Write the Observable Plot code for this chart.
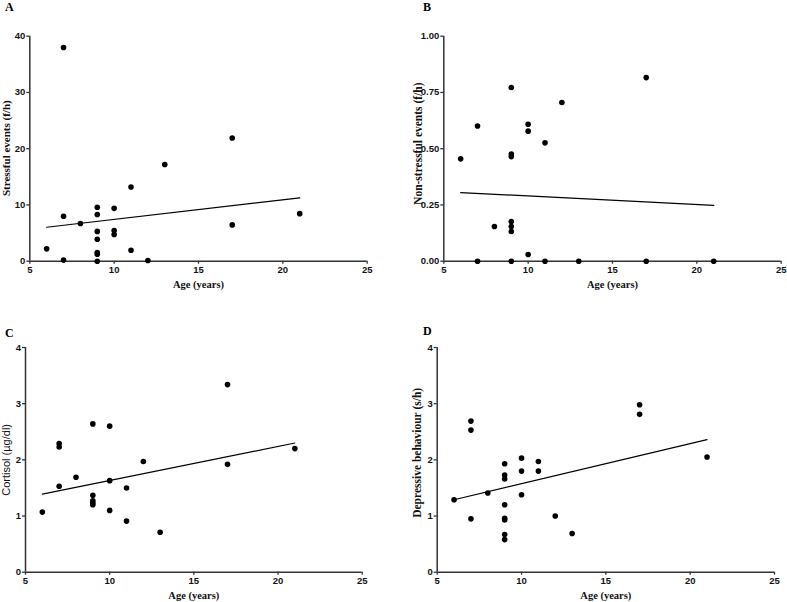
<!DOCTYPE html>
<html>
<head>
<meta charset="utf-8">
<script src="https://cdn.jsdelivr.net/npm/d3@7"></script>
<script src="https://cdn.jsdelivr.net/npm/@observablehq/plot@0.6"></script>
<style>
  html, body { margin: 0; padding: 0; background: #fff; }
  #root { position: relative; width: 787px; height: 602px; overflow: hidden; }
  .panel { position: absolute; }
  .letter { position: absolute; font-family: "Liberation Serif", "Times New Roman", serif; font-weight: bold; font-size: 12px; color: #000; line-height: 1; }
</style>
</head>
<body>
<div id="root"></div>
<script>
// ---- Data ----
const xTicks = [5, 10, 15, 20, 25];

// Panel A: stressful events (f/h)
const ageA    = [6, 7, 7, 7, 8, 9, 9, 9, 9, 9, 9, 9, 10, 10, 10, 11, 11, 12, 13, 17, 17, 21];
const stressA = [2.2, 38, 8, 0.2, 6.7, 9.6, 8.3, 5.3, 3.9, 1.55, 1.25, 0, 9.4, 5.45, 4.75, 13.2, 1.95, 0.12, 17.2, 21.9, 6.45, 8.45];
const yTicksA = [0, 10, 20, 30, 40];
const fitAgeA = [6, 21];
const fitA    = [6.04, 11.26];

// Panel B: non-stressful events (f/h)
const ageB       = [6, 7, 7, 8, 9, 9, 9, 9, 9, 9, 9, 10, 10, 10, 11, 11, 12, 13, 17, 17, 21];
const nonStressB = [0.455, 0.601, 0, 0.154, 0.772, 0.476, 0.465, 0.176, 0.154, 0.132, 0, 0.609, 0.578, 0.03, 0.526, 0, 0.705, 0, 0.816, 0, 0];
const yTicksB = [0, 0.25, 0.5, 0.75, 1];
const fitAgeB = [6, 21];
const fitB    = [0.305, 0.248];

// Panel C: cortisol (µg/dl)
const ageC      = [6, 7, 7, 7, 8, 9, 9, 9, 9, 9, 10, 10, 10, 11, 11, 12, 13, 17, 17, 21];
const cortisolC = [1.07, 1.53, 2.23, 2.29, 1.69, 2.64, 1.37, 1.27, 1.23, 1.2, 2.6, 1.63, 1.1, 1.5, 0.91, 1.97, 0.71, 3.34, 1.92, 2.2];
const yTicksC = [0, 1, 2, 3, 4];
const fitAgeC = [6, 21];
const fitC    = [1.39, 2.3];

// Panel D: depressive behaviour (s/h)
const ageD      = [6, 7, 7, 7, 8, 9, 9, 9, 9, 9, 9, 9, 9, 10, 10, 10, 11, 11, 12, 13, 17, 17, 21];
const depressD  = [1.29, 2.69, 2.53, 0.95, 1.41, 1.93, 1.73, 1.66, 1.2, 0.96, 0.93, 0.67, 0.58, 2.03, 1.8, 1.38, 1.97, 1.8, 1.0, 0.69, 2.98, 2.81, 2.05];
const yTicksD = [0, 1, 2, 3, 4];
const fitAgeD = [6, 21];
const fitD    = [1.29, 2.36];

// ---- Rendering ----
const SANS = "'Liberation Sans', Arial, sans-serif";
const SERIF = "'Liberation Serif', 'Times New Roman', serif";

function zip(xs, ys) { return xs.map((x, i) => ({x, y: ys[i]})); }

function panel(cfg) {
  const pts = zip(cfg.ages, cfg.values);
  const fit = zip(cfg.fitAges, cfg.fitValues);
  const chart = Plot.plot({
    width: cfg.width,
    height: cfg.height,
    marginLeft: cfg.ml, marginRight: cfg.mr, marginTop: cfg.mt, marginBottom: cfg.mb,
    style: {background: "transparent", overflow: "visible"},
    x: {domain: [5, 25], axis: null},
    y: {domain: cfg.yDomain, axis: null},
    marks: [
      Plot.axisX(xTicks, {tickSize: 3, tickPadding: 2, fontWeight: "bold", fontFamily: SANS, fontSize: 9.5, stroke: "#333", fill: "#111", strokeWidth: 1.3, label: null}),
      Plot.axisY(cfg.yTicks, {tickSize: 3, tickPadding: 1.5, fontWeight: "bold", fontFamily: SANS, fontSize: 9.5, stroke: "#333", fill: "#111", strokeWidth: 1.3, label: null, tickFormat: cfg.tickFormat}),
      Plot.ruleX([5], {stroke: "#333", strokeWidth: 1.5}),
      Plot.ruleY([cfg.yDomain[0]], {stroke: "#333", strokeWidth: 1.5}),
      Plot.line(fit, {x: "x", y: "y", stroke: "#000", strokeWidth: 1.2}),
      Plot.dot(pts, {x: "x", y: "y", r: 2.8, fill: "#000", stroke: "none"}),
      Plot.text(["Age (years)"], {frameAnchor: "bottom", dy: 23, lineAnchor: "middle", textAnchor: "middle", fontFamily: SERIF, fontWeight: "bold", fontSize: 10.5, fill: "#111"}),
      Plot.text([cfg.yLabel], {frameAnchor: "left", rotate: -90, dx: cfg.ydx, dy: cfg.ydy, lineAnchor: "middle", textAnchor: "middle",
        fontFamily: cfg.ySans ? SANS : SERIF, fontWeight: cfg.ySans ? "normal" : "bold", fontSize: cfg.yFont, fill: "#111"})
    ]
  });
  chart.classList.add("panel");
  chart.style.left = cfg.left + "px";
  chart.style.top = cfg.top + "px";
  document.getElementById("root").appendChild(chart);

  const L = document.createElement("div");
  L.className = "letter";
  L.textContent = cfg.letter;
  L.style.left = cfg.lx + "px";
  L.style.top = cfg.ly + "px";
  document.getElementById("root").appendChild(L);
}

panel({letter: "A", lx: 5, ly: 1, left: 0, top: 0, width: 393, height: 301,
  ml: 29.3, mr: 26.3, mt: 35.7, mb: 40.3,
  ages: ageA, values: stressA, fitAges: fitAgeA, fitValues: fitA,
  yDomain: [0, 40], yTicks: yTicksA, tickFormat: d => String(d),
  yLabel: "Stressful events (f/h)", ydx: -23.8, ydy: -0.5, yFont: 11});

panel({letter: "B", lx: 423, ly: 1, left: 393, top: 0, width: 394, height: 301,
  ml: 50.3, mr: 6.3, mt: 35.7, mb: 40.3,
  ages: ageB, values: nonStressB, fitAges: fitAgeB, fitValues: fitB,
  yDomain: [0, 1], yTicks: yTicksB, tickFormat: d => d.toFixed(2),
  yLabel: "Non-stressful events (f/h)", ydx: -25.5, ydy: -5, yFont: 11.5});

panel({letter: "C", lx: 5, ly: 327, left: 0, top: 301, width: 393, height: 301,
  ml: 25, mr: 31.3, mt: 46, mb: 30.3,
  ages: ageC, values: cortisolC, fitAges: fitAgeC, fitValues: fitC,
  yDomain: [0, 4], yTicks: yTicksC, tickFormat: d => String(d),
  yLabel: "Cortisol (µg/dl)", ydx: -19.5, ydy: 0, yFont: 11, ySans: true});

panel({letter: "D", lx: 423, ly: 325, left: 393, top: 301, width: 394, height: 301,
  ml: 43.7, mr: 13, mt: 46, mb: 30.3,
  ages: ageD, values: depressD, fitAges: fitAgeD, fitValues: fitD,
  yDomain: [0, 4], yTicks: yTicksD, tickFormat: d => String(d),
  yLabel: "Depressive behaviour (s/h)", ydx: -19.7, ydy: -7, yFont: 11.5});
</script>
</body>
</html>
